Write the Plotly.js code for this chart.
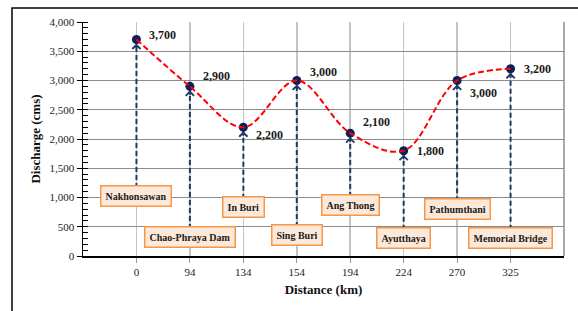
<!DOCTYPE html>
<html><head><meta charset="utf-8">
<script src="https://cdn.plot.ly/plotly-3.0.1.min.js"></script>
<style>html,body{margin:0;padding:0;background:#fff}</style>
</head><body><div id="chart" style="width:578px;height:311px"></div>
<script>
// ---- data ----
const distances = ['0','94','134','154','194','224','270','325'];
const discharge = [3700, 2900, 2200, 3000, 2100, 1800, 3000, 3200];
const stations = ['Nakhonsawan','Chao-Phraya Dam','In Buri','Sing Buri','Ang Thong','Ayutthaya','Pathumthani','Memorial Bridge'];
const yTicks = [0, 500, 1000, 1500, 2000, 2500, 3000, 3500, 4000];

// ---- label placement (layout, not data) ----
const boxLevels = [1025, 325, 840, 360, 870, 310, 800, 310];
const labelYShift = [5, 10, -8, 9, 11, 0, -12, 0];

const serif = 'Liberation Serif, Times New Roman, serif';
const navy = '#1F3864';

// vertical dashed connectors
const vx = [], vy = [];
distances.forEach((d, i) => { vx.push(d, d, null); vy.push(boxLevels[i], discharge[i], null); });

const traces = [
  {x: vx, y: vy, mode: 'lines', line: {color: navy, width: 2, dash: '5px,3px'}, hoverinfo: 'skip', showlegend: false},
  {x: distances, y: discharge, mode: 'markers', marker: {color: '#0F1F5C', size: 9}, showlegend: false},
  {x: distances, y: discharge, mode: 'lines', line: {color: '#FF0000', width: 2, dash: '6px,3px', shape: 'spline', smoothing: 1}, showlegend: false}
];

// annotations on a category axis are positioned by category index
const annotations = [];
distances.forEach((d, i) => {
  annotations.push({x: i, y: discharge[i], ax: 0, ay: 10, text: '', showarrow: true,
    arrowhead: 4, arrowsize: 0.8, arrowwidth: 2, arrowcolor: navy, standoff: 4});
  annotations.push({x: i, y: discharge[i], text: '<b>' + discharge[i].toLocaleString('en-US') + '</b>',
    showarrow: false, xanchor: 'left', yanchor: 'middle', xshift: 11, yshift: labelYShift[i],
    font: {family: serif, size: 12, color: '#1a1a1a'}});
  annotations.push({x: i, y: boxLevels[i], text: '<b>' + stations[i] + '</b>', showarrow: false,
    xanchor: 'center', yanchor: 'middle', font: {family: serif, size: 10, color: '#1a1a1a'},
    bgcolor: '#FDE9D9', bordercolor: '#F79646', borderwidth: 1.5, borderpad: 4});
});

const layout = {
  width: 578, height: 311,
  margin: {l: 83, r: 14, t: 22, b: 55},
  paper_bgcolor: '#fff', plot_bgcolor: '#fff',
  showlegend: false,
  xaxis: {
    type: 'category', range: [-1, 8], showgrid: true, gridcolor: '#c4c4c4', gridwidth: 1.5,
    showline: true, linecolor: '#000', linewidth: 1.5, ticks: 'outside', ticklen: 5, tickcolor: '#999',
    tickfont: {family: serif, size: 11, color: '#222'}, zeroline: false, fixedrange: true,
    title: {text: '<b>Distance (km)</b>', font: {family: serif, size: 13, color: '#111'}, standoff: 8}
  },
  yaxis: {
    range: [0, 4000], tickvals: yTicks, tickformat: ',d', showgrid: true, gridcolor: '#8c8c8c', gridwidth: 1,
    showline: true, linecolor: '#000', linewidth: 1.5, ticks: 'outside', ticklen: 5, tickcolor: '#000',
    minor: {dtick: 100, ticks: 'inside', ticklen: 5, tickcolor: '#000', showgrid: false},
    tickfont: {family: serif, size: 11, color: '#222'}, zeroline: false, fixedrange: true,
    title: {text: '<b>Discharge (cms)</b>', font: {family: serif, size: 13, color: '#111'}, standoff: 6}
  },
  shapes: [
    {type: 'line', xref: 'paper', yref: 'paper', x0: 1, x1: 1, y0: 0, y1: 1, line: {color: '#8c8c8c', width: 1.5}},
    {type: 'rect', xref: 'paper', yref: 'paper', x0: -0.1476, x1: 1.2, y0: -0.5, y1: 1.0598, line: {color: '#000', width: 1.5}}
  ],
  annotations: annotations
};

Plotly.newPlot('chart', traces, layout, {staticPlot: true, displayModeBar: false});
</script></body></html>
